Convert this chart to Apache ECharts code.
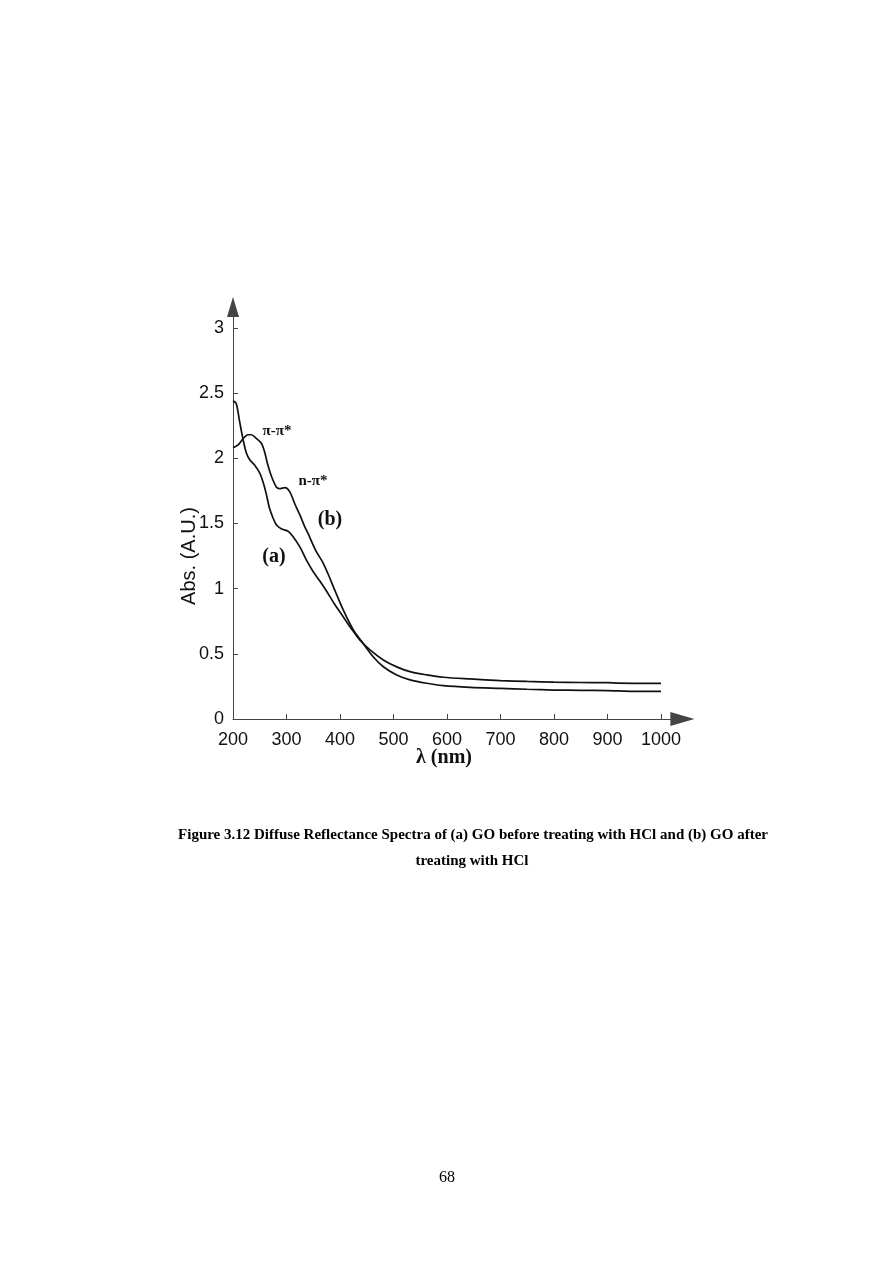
<!DOCTYPE html>
<html>
<head>
<meta charset="utf-8">
<script src="https://cdn.jsdelivr.net/npm/echarts@6/dist/echarts.min.js"></script>
<style>
  html, body { margin: 0; padding: 0; background: #fff; }
  #chart { width: 893px; height: 1262px; }
</style>
</head>
<body>
<div id="chart"></div>
<script>
// wavelength (nm) / absorbance
var waveA = [200, 206, 212, 219, 225, 231, 240, 250, 256, 262, 268, 275, 281, 290, 303, 312, 325, 337, 350, 362, 375, 390, 405, 420, 437, 456, 481, 506, 531, 562, 593, 643, 700, 750, 800, 850, 900, 920, 950, 1000];
var absA = [2.44, 2.42, 2.29, 2.14, 2.04, 1.99, 1.95, 1.885, 1.82, 1.73, 1.62, 1.54, 1.49, 1.46, 1.44, 1.40, 1.32, 1.22, 1.13, 1.06, 0.98, 0.88, 0.79, 0.70, 0.606, 0.53, 0.453, 0.40, 0.363, 0.338, 0.32, 0.307, 0.295, 0.288, 0.283, 0.28, 0.279, 0.275, 0.274, 0.274];

var waveB = [200, 209, 219, 228, 234, 244, 253, 259, 265, 272, 281, 287, 297, 306, 315, 325, 334, 340, 355, 368, 378, 388, 406, 425, 441, 462, 481, 506, 531, 562, 593, 643, 700, 750, 800, 850, 900, 950, 1000];
var absB = [2.08, 2.10, 2.15, 2.18, 2.18, 2.15, 2.115, 2.05, 1.95, 1.86, 1.78, 1.767, 1.775, 1.744, 1.655, 1.565, 1.476, 1.425, 1.29, 1.20, 1.11, 1.01, 0.837, 0.683, 0.593, 0.478, 0.401, 0.338, 0.30, 0.274, 0.256, 0.243, 0.235, 0.228, 0.222, 0.22, 0.218, 0.212, 0.212];

var xTicks = [200, 300, 400, 500, 600, 700, 800, 900, 1000];
var yTicks = [0, 0.5, 1, 1.5, 2, 2.5, 3];

function pairs(xs, ys) {
  return xs.map(function (x, i) { return [x, ys[i]]; });
}

var chart = echarts.init(document.getElementById('chart'));
var serif = '"Liberation Serif", "Times New Roman", serif';
var sans = '"Liberation Sans", Arial, sans-serif';

chart.setOption({
  animation: false,
  backgroundColor: '#fff',
  grid: { left: 233, right: 210.6, top: 307, bottom: 543, containLabel: false },
  xAxis: {
    type: 'value', min: 200, max: 1040,
    splitLine: { show: false },
    axisLine: { lineStyle: { color: '#444', width: 1 }, symbol: ['none', 'triangle'], symbolSize: [14, 24] },
    axisTick: { inside: true, length: 5, customValues: xTicks, lineStyle: { color: '#444' } },
    axisLabel: { customValues: xTicks, formatter: function (v) { return String(v); },
      color: '#111', fontFamily: sans, fontSize: 18, margin: 12 }
  },
  yAxis: {
    type: 'value', min: 0, max: 3.16,
    splitLine: { show: false },
    axisLine: { show: true, lineStyle: { color: '#444', width: 1 }, symbol: ['none', 'triangle'], symbolSize: [12, 20] },
    axisTick: { show: true, inside: true, length: 5, customValues: yTicks, lineStyle: { color: '#444' } },
    axisLabel: { customValues: yTicks, formatter: function (v) { return String(v); },
      color: '#111', fontFamily: sans, fontSize: 18, margin: 9 }
  },
  series: [
    { name: '(a)', type: 'line', data: pairs(waveA, absA), showSymbol: false, smooth: 0.3,
      lineStyle: { color: '#111', width: 1.7 } },
    { name: '(b)', type: 'line', data: pairs(waveB, absB), showSymbol: false, smooth: 0.3,
      lineStyle: { color: '#111', width: 1.7 } }
  ],
  graphic: [
    { type: 'text', x: 444, y: 758, style: { text: 'λ (nm)', font: 'bold 20px ' + serif, fill: '#111', align: 'center', verticalAlign: 'middle' } },
    { type: 'text', x: 189, y: 556, rotation: Math.PI / 2, style: { text: 'Abs. (A.U.)', font: '20px ' + sans, fill: '#111', align: 'center', verticalAlign: 'middle' } },
    { type: 'text', x: 277, y: 431, style: { text: 'π-π*', font: 'bold 15px ' + serif, fill: '#111', align: 'center', verticalAlign: 'middle' } },
    { type: 'text', x: 313, y: 481, style: { text: 'n-π*', font: 'bold 15px ' + serif, fill: '#111', align: 'center', verticalAlign: 'middle' } },
    { type: 'text', x: 330, y: 520, style: { text: '(b)', font: 'bold 20px ' + serif, fill: '#111', align: 'center', verticalAlign: 'middle' } },
    { type: 'text', x: 274, y: 557, style: { text: '(a)', font: 'bold 20px ' + serif, fill: '#111', align: 'center', verticalAlign: 'middle' } },
    { type: 'text', x: 473, y: 835, style: { text: 'Figure 3.12 Diffuse Reflectance Spectra of (a) GO before treating with HCl and (b) GO after', font: 'bold 15px ' + serif, fill: '#000', align: 'center', verticalAlign: 'middle' } },
    { type: 'text', x: 472, y: 861, style: { text: 'treating with HCl', font: 'bold 15px ' + serif, fill: '#000', align: 'center', verticalAlign: 'middle' } },
    { type: 'text', x: 447, y: 1178, style: { text: '68', font: '16px ' + serif, fill: '#000', align: 'center', verticalAlign: 'middle' } }
  ]
});
</script>
</body>
</html>
